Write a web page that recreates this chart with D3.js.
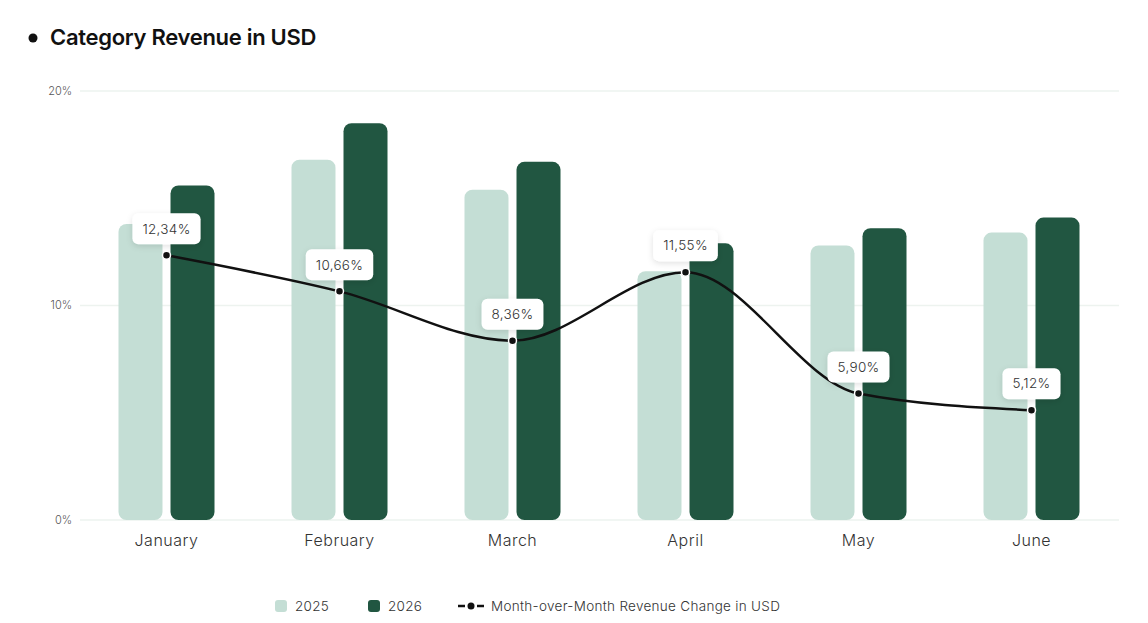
<!DOCTYPE html>
<html>
<head>
<meta charset="utf-8">
<script src="https://cdn.jsdelivr.net/npm/d3@7"></script>
<style>
  body { margin: 0; background: #fff; font-family: "Inter", "Open Sans", sans-serif; }
  svg { display: block; }
</style>
</head>
<body>
<svg id="chart"></svg>
<script>
const W = 1148, H = 623;
const margin = { top: 91, right: 30, bottom: 103, left: 80 };

// data
const months = ["January", "February", "March", "April", "May", "June"];
const years = ["2025", "2026"];
const revenue2025 = [13.8, 16.8, 15.4, 11.6, 12.8, 13.4];
const revenue2026 = [15.6, 18.5, 16.7, 12.9, 13.6, 14.1];
const momChange = [12.34, 10.66, 8.36, 11.55, 5.90, 5.12];
const yTicks = [0, 10, 20];

const colors = { "2025": "#c4ded5", "2026": "#215641" };

const svg = d3.select("#chart").attr("width", W).attr("height", H);

// drop shadow for the value labels
const defs = svg.append("defs");
const shadow = defs.append("filter").attr("id", "shadow")
    .attr("x", "-30%").attr("y", "-30%").attr("width", "160%").attr("height", "180%");
shadow.append("feDropShadow").attr("dx", 0).attr("dy", 2).attr("stdDeviation", 3)
    .attr("flood-color", "#000").attr("flood-opacity", 0.12);

// title
svg.append("circle").attr("cx", 33).attr("cy", 38).attr("r", 4.5).attr("fill", "#111");
svg.append("text")
    .attr("x", 50).attr("y", 45)
    .style("font-size", "22px").style("font-weight", 600)
    .style("fill", "#111").style("letter-spacing", "-0.3px")
    .text("Category Revenue in USD");

const x0 = d3.scaleBand()
    .domain(months)
    .range([margin.left, W - margin.right])
    .paddingInner(0.445)
    .paddingOuter(0.2225);

const x1 = d3.scaleBand()
    .domain(years)
    .range([0, x0.bandwidth()])
    .paddingInner(0.154);

const y = d3.scaleLinear()
    .domain([0, 20])
    .range([H - margin.bottom, margin.top]);

// grid + y labels
const yAxis = svg.append("g");
yAxis.selectAll("line")
    .data(yTicks)
    .enter().append("line")
    .attr("x1", margin.left).attr("x2", W - margin.right + 1)
    .attr("y1", d => y(d)).attr("y2", d => y(d))
    .attr("stroke", "#edf3ef").attr("stroke-width", 1.5);
yAxis.selectAll("text")
    .data(yTicks)
    .enter().append("text")
    .attr("x", margin.left - 8).attr("y", d => y(d))
    .attr("dy", "0.35em")
    .attr("text-anchor", "end")
    .style("font-size", "11px").style("fill", "#555").style("font-weight", 300)
    .text(d => d + "%");

// bars
const rows = months.map((m, i) => ({ month: m, "2025": revenue2025[i], "2026": revenue2026[i] }));

const groups = svg.selectAll(".group")
    .data(rows)
    .enter().append("g")
    .attr("class", "group")
    .attr("transform", d => `translate(${x0(d.month)},0)`);

groups.selectAll("rect")
    .data(d => years.map(k => ({ key: k, value: d[k] })))
    .enter().append("rect")
    .attr("x", d => x1(d.key))
    .attr("y", d => y(d.value))
    .attr("width", x1.bandwidth())
    .attr("height", d => y(0) - y(d.value))
    .attr("rx", 8).attr("ry", 8)
    .attr("fill", d => colors[d.key]);

// x labels
svg.selectAll(".xlabel")
    .data(months)
    .enter().append("text")
    .attr("class", "xlabel")
    .attr("x", d => x0(d) + x0.bandwidth() / 2)
    .attr("y", y(0) + 26)
    .attr("text-anchor", "middle")
    .style("font-size", "16px").style("fill", "#333").style("font-weight", 300)
    .style("letter-spacing", "0.5px")
    .text(d => d);

// line
const pts = months.map((m, i) => ({ month: m, value: momChange[i] }));
const line = d3.line()
    .x(d => x0(d.month) + x0.bandwidth() / 2)
    .y(d => y(d.value))
    .curve(d3.curveMonotoneX);

svg.append("path")
    .datum(pts)
    .attr("d", line)
    .attr("fill", "none")
    .attr("stroke", "#111")
    .attr("stroke-width", 2.5);

svg.selectAll(".dot")
    .data(pts)
    .enter().append("circle")
    .attr("class", "dot")
    .attr("cx", d => x0(d.month) + x0.bandwidth() / 2)
    .attr("cy", d => y(d.value))
    .attr("r", 4)
    .attr("fill", "#111")
    .attr("stroke", "#fff")
    .attr("stroke-width", 1.5);

// value labels
const fmt = v => v.toFixed(2).replace(".", ",") + "%";
const labels = svg.selectAll(".vlabel")
    .data(pts)
    .enter().append("g")
    .attr("class", "vlabel")
    .attr("transform", d => `translate(${x0(d.month) + x0.bandwidth() / 2},${y(d.value) - 11})`);

labels.each(function(d) {
    const g = d3.select(this);
    const rect = g.append("rect");
    const t = g.append("text")
        .attr("x", 0).attr("y", -15.5)
        .attr("dy", "0.35em")
        .attr("text-anchor", "middle")
        .style("font-size", "13.5px").style("fill", "#333").style("font-weight", 300)
        .style("letter-spacing", "0.3px")
        .text(fmt(d.value));
    const w = t.node().getComputedTextLength() + 20;
    rect.attr("x", -w / 2).attr("y", -31)
        .attr("width", w).attr("height", 31)
        .attr("rx", 6).attr("ry", 6)
        .attr("fill", "#fff")
        .attr("filter", "url(#shadow)");
});

// legend
const legend = svg.append("g").attr("transform", "translate(0,606)");
years.forEach((k, i) => {
    const lx = 275 + i * 93;
    legend.append("rect")
        .attr("x", lx).attr("y", -6).attr("width", 12).attr("height", 12)
        .attr("rx", 3).attr("fill", colors[k]);
    legend.append("text")
        .attr("x", lx + 20).attr("y", 0).attr("dy", "0.35em")
        .style("font-size", "13.5px").style("fill", "#333").style("font-weight", 300)
        .style("letter-spacing", "0.3px")
        .text(k);
});
legend.append("line")
    .attr("x1", 458).attr("x2", 484).attr("y1", 0).attr("y2", 0)
    .attr("stroke", "#111").attr("stroke-width", 2.5)
    .attr("stroke-dasharray", "7,12");
legend.append("circle").attr("cx", 471).attr("cy", 0).attr("r", 3.5).attr("fill", "#111");
legend.append("text")
    .attr("x", 491).attr("y", 0).attr("dy", "0.35em")
    .style("font-size", "13.5px").style("fill", "#333").style("font-weight", 300)
    .style("letter-spacing", "0.3px")
    .text("Month-over-Month Revenue Change in USD");
</script>
</body>
</html>
